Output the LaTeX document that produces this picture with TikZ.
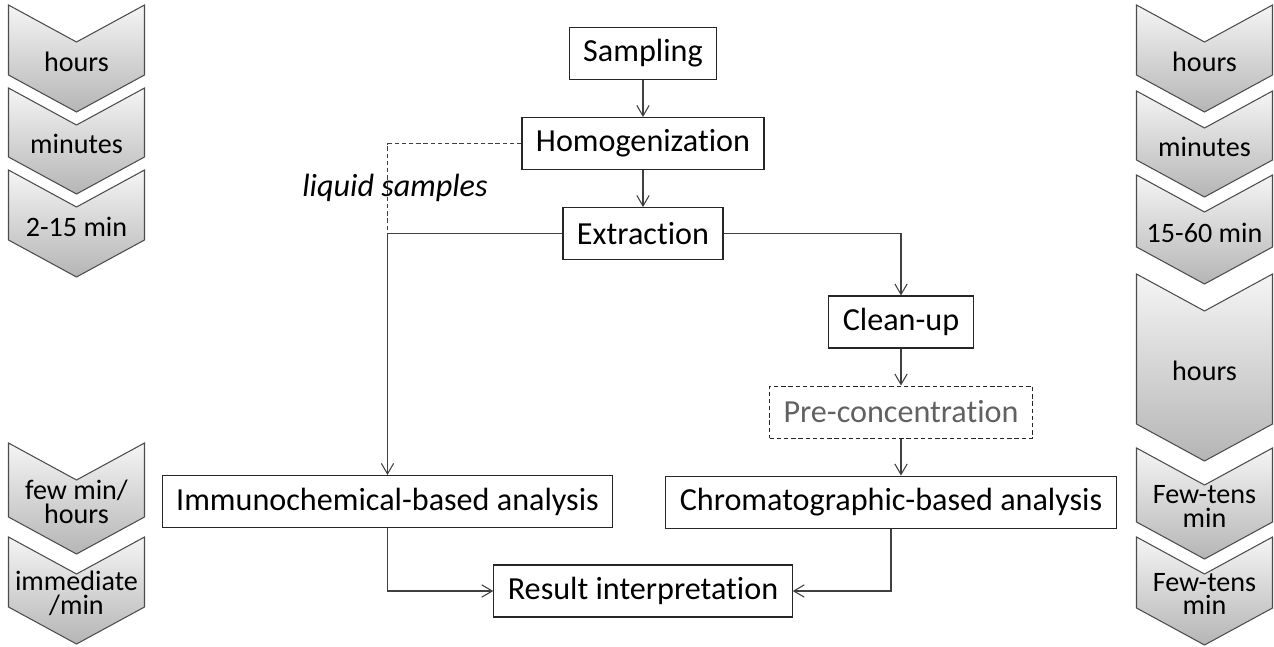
\documentclass[tikz,border=0pt]{standalone}
\usepackage{fontspec}
\setmainfont{Carlito}[Ligatures={NoCommon}]
\usetikzlibrary{positioning,arrows.meta}

\begin{document}
\begin{tikzpicture}[x=0.02cm, y=-0.02cm, node distance=0.74cm,
	box/.style={draw=black!85, line width=0.6pt, minimum height=1.04cm, inner xsep=0.28cm, inner ysep=0pt, font=\fontsize{18.3}{22}\selectfont},
	optional/.style={box, dash pattern=on 2.5pt off 1.6pt, text=black!62},
	chev/.style={draw=black!70, line width=0.6pt, top color=gray!8, bottom color=gray!58},
	chevtext/.style={align=center, inner sep=0pt, font=\fontsize{16}{13.5}\selectfont},
	flow/.style={draw=black!75, line width=0.6pt, -{Straight Barb[length=6pt,width=7pt]}}]
		\useasboundingbox (0,0) rectangle (1274,646);

		% time scale chevrons, left and right
		\foreach \xc/\yt/\yb/\txt/\nm in {76.5/5/75/hours/l1, 76.5/88/157/minutes/l2, 76.5/170/240/2-15 min/l3,
			76.5/443/517/{few min/\\hours}/l4, 76.5/537/607/{immediate\\/min}/l5,
			1204.5/5/75/hours/r1, 1204.5/91/160/minutes/r2, 1204.5/175/247/15-60 min/r3,
			1204.5/274/424/hours/r4, 1204.5/448/522/{Few-tens\\min}/r5, 1204.5/537/608/{Few-tens\\min}/r6} {
			\path[chev] ({\xc-68},\yt) -- (\xc,{\yt+37}) -- ({\xc+68},\yt) -- ({\xc+68},\yb)
				-- (\xc,{\yb+37}) -- ({\xc-68},\yb) -- cycle;
			\node [chevtext] (\nm) at (\xc,{(\yt+\yb+37)/2+3}) {\txt};
		}

		\node [box] (sampling) at (643,53.5) {Sampling};
		\node [box, below=of sampling] (homog) {Homogenization};
		\node [box, below=of homog] (extract) {Extraction};
		\node [box] (cleanup) at (901,322) {Clean-up};
		\node [optional, below=of cleanup] (precon) {Pre-concentration};
		\node [box, below=of precon, xshift=-0.2cm] (chromo) {Chromatographic-based analysis};
		\node [box] (immuno) at (387.5,501.5) {Immunochemical-based analysis};
		\node [box] (result) at (643,591) {Result interpretation};
		\coordinate (turn) at (immuno.north |- extract.west);
		\node [font=\fontsize{18.3}{22}\selectfont\itshape] (liquid) at (395,188) {liquid samples};

		\path[flow] (sampling) edge (homog);
		\path[flow] (homog) edge (extract);
		\path[flow] (cleanup) edge (precon);
		\draw[flow] (precon.south) -- (precon.south |- chromo.north);
		\draw[draw=black!75, line width=0.6pt, dash pattern=on 2.5pt off 1.6pt] (homog.west) -| (turn);
		\draw[flow] (extract.west) -| (immuno.north);
		\draw[flow] (extract.east) -| (cleanup.north);
		\draw[flow] (immuno.south) |- (result.west);
		\draw[flow] (chromo.south) |- (result.east);
	\end{tikzpicture}
\end{document}
